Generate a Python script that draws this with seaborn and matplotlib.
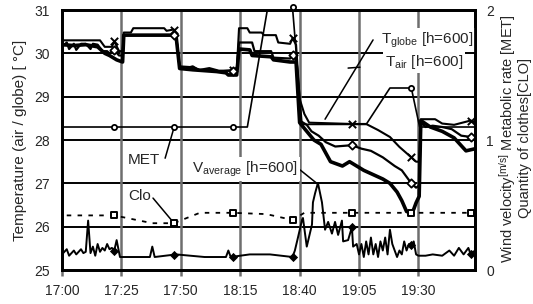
import numpy as np
import pandas as pd
import matplotlib.pyplot as plt
import seaborn as sns

# minutes after 17:00
tick_min = [0, 25, 50, 75, 100, 125, 150]
tick_lab = ["17:00", "17:25", "17:50", "18:15", "18:40", "19:05", "19:30"]
mark_min = [22, 47, 72, 97, 122, 147, 172]

# air temperature (x markers)
air_time = [0, 16, 18, 21, 22, 24, 25.5, 26, 29, 30, 43, 44, 47, 48, 49.5, 55, 58, 62, 66, 70,
            72, 73.5, 74.5, 78, 79, 84, 85, 90, 91, 96, 97, 98.5, 100, 102, 104, 122, 128, 133, 138, 142,
            147, 149, 150.3, 151, 157, 160, 165, 172, 174]
air_temp = [30.30, 30.30, 30.15, 30.15, 30.28, 30.05, 30.05, 30.48, 30.48, 30.58, 30.58, 30.52, 30.55, 30.45, 29.70, 29.68, 29.62, 29.66, 29.60, 29.60,
            29.62, 29.55, 30.58, 30.58, 30.48, 30.48, 30.42, 30.42, 30.25, 30.22, 30.35, 30.20, 28.95, 28.60, 28.40, 28.37, 28.37, 28.23, 28.07, 27.84,
            27.60, 27.50, 27.50, 28.48, 28.48, 28.38, 28.35, 28.45, 28.40]

# globe temperature (diamond markers)
globe_time = [0, 2, 3, 5, 6, 8, 10, 12, 13, 15, 17, 19, 20, 22, 24, 25.5, 26, 47, 48, 49.5,
              52, 55, 58, 62, 66, 70, 72, 73.5, 74.5, 80, 81, 88, 89, 96, 97, 98.5, 100, 103, 105, 108,
              111, 115, 122, 126, 130, 135, 140, 143, 147, 149, 150.3, 151, 153, 156, 160, 164, 168, 172, 174]
globe_temp = [30.15, 30.25, 30.10, 30.22, 30.08, 30.22, 30.22, 30.10, 30.22, 30.20, 30.05, 30.05, 30.00, 30.08, 29.95, 29.95, 30.42, 30.42, 30.40, 29.68,
              29.65, 29.70, 29.60, 29.62, 29.58, 29.60, 29.60, 29.55, 30.25, 30.25, 30.05, 30.05, 29.90, 29.88, 29.96, 29.85, 28.45, 28.35, 28.20, 28.10,
              27.95, 27.85, 27.88, 27.80, 27.75, 27.60, 27.40, 27.30, 27.00, 26.90, 26.95, 28.40, 28.30, 28.33, 28.30, 28.25, 28.10, 28.07, 28.00]

# bold temperature line
bold_time = [0, 5, 10, 15, 18, 20, 23, 25.5, 26, 47, 48, 49.5, 55, 60, 65, 69, 70, 73.5, 74.5, 79,
             80, 88, 89, 96, 98.5, 100, 103, 106, 109, 111, 113, 118, 121, 124, 127, 131, 135, 138, 141, 143,
             145, 147, 148, 149, 150.3, 151, 155, 160, 165, 170, 174]
bold_temp = [30.20, 30.18, 30.20, 30.15, 30.00, 29.95, 29.85, 29.80, 30.42, 30.42, 30.40, 29.65, 29.62, 29.60, 29.58, 29.55, 29.50, 29.50, 30.10, 30.08,
             29.95, 29.92, 29.85, 29.80, 29.80, 28.40, 28.20, 28.00, 27.90, 27.70, 27.50, 27.40, 27.50, 27.40, 27.30, 27.20, 27.10, 27.00, 26.80, 26.60,
             26.35, 26.32, 26.40, 26.55, 26.70, 28.45, 28.30, 28.20, 28.05, 27.75, 27.80]

# metabolic rate [MET]
met_time = [0, 22, 47, 72, 78, 92, 97, 101, 128, 138, 147, 150.5, 172, 174]
met_val = [1.1, 1.1, 1.1, 1.1, 1.1, 2.6, 2.02, 1.12, 1.12, 1.4, 1.4, 1.1, 1.1, 1.1]

# clothing [CLO]
clo_time = [2, 22, 38, 47, 58, 72, 86, 97, 102, 122, 147, 172, 174]
clo_val = [0.42, 0.42, 0.36, 0.36, 0.44, 0.44, 0.43, 0.385, 0.44, 0.44, 0.44, 0.44, 0.44]

# wind velocity [m/s]
wind_time = [0, 2, 3, 5, 6, 8, 9, 10, 11, 12, 13, 14, 15, 16, 17, 18, 19, 20, 21, 22,
             23, 24.4, 30, 37, 38, 39, 48, 60, 69, 70, 71, 79, 87.5, 97, 98, 99.3, 101, 101.4, 103, 105.2,
             105.6, 106.5, 107.7, 109.4, 110.7, 112, 113.6, 114.9, 116.2, 117.8, 118.3, 120.4, 122, 122.5, 124, 125, 126, 127, 128, 129,
             130, 131, 132, 133, 134, 135, 136, 137, 138, 139, 140, 141, 142, 143, 144, 145, 146, 147, 148, 149,
             150, 153, 156, 160, 163, 165, 167, 169, 171, 172, 173, 174]
wind_val = [0.12, 0.16, 0.11, 0.15, 0.12, 0.16, 0.13, 0.14, 0.38, 0.13, 0.18, 0.11, 0.20, 0.14, 0.17, 0.15, 0.20, 0.16, 0.17, 0.15,
            0.23, 0.10, 0.10, 0.10, 0.18, 0.10, 0.12, 0.10, 0.10, 0.15, 0.10, 0.12, 0.12, 0.10, 0.15, 0.25, 0.385, 0.40, 0.18, 0.35,
            0.52, 0.59, 0.67, 0.52, 0.31, 0.37, 0.28, 0.37, 0.27, 0.38, 0.22, 0.23, 0.33, 0.18, 0.20, 0.12, 0.20, 0.10, 0.22, 0.12,
            0.25, 0.12, 0.20, 0.10, 0.22, 0.15, 0.25, 0.12, 0.31, 0.20, 0.15, 0.10, 0.15, 0.12, 0.22, 0.15, 0.20, 0.19, 0.22, 0.12,
            0.11, 0.11, 0.12, 0.11, 0.15, 0.11, 0.17, 0.12, 0.17, 0.12, 0.14, 0.15]

sns.set_theme(style="white")
plt.rcParams["font.family"] = ["Liberation Sans", "DejaVu Sans"]
plt.rcParams["mathtext.fontset"] = "custom"
plt.rcParams["mathtext.rm"] = "Liberation Sans"
plt.rcParams["mathtext.it"] = "Liberation Sans"

fig = plt.figure(figsize=(5.33, 3.04), dpi=100)
ax = fig.add_axes([0.1163, 0.1118, 0.7749, 0.8553])
ax2 = ax.twinx()

# grid
for y in [26, 27, 28, 29, 30]:
    ax.axhline(y, color="black", lw=1.4, zorder=1)
for x in tick_min[1:]:
    ax.axvline(x, color="#6e6e6e", lw=1.8, zorder=1)

# temperatures
sns.lineplot(x=bold_time, y=bold_temp, ax=ax, color="black", lw=2.6, estimator=None, zorder=3)
sns.lineplot(x=globe_time, y=globe_temp, ax=ax, color="black", lw=1.6, estimator=None, zorder=3)
sns.lineplot(x=air_time, y=air_temp, ax=ax, color="black", lw=1.5, estimator=None, zorder=3)
sns.scatterplot(x=mark_min, y=np.interp(mark_min, air_time, air_temp), ax=ax, marker="x",
                color="black", s=28, linewidth=1.4, zorder=4)
sns.scatterplot(x=mark_min, y=np.interp(mark_min, globe_time, globe_temp), ax=ax, marker="D",
                facecolor="white", edgecolor="black", s=18, linewidth=1.3, zorder=4)

# right axis series
sns.lineplot(x=met_time, y=met_val, ax=ax2, color="black", lw=1.2, estimator=None)
met_marks = [22, 47, 72, 97, 147]
sns.scatterplot(x=met_marks, y=np.interp(met_marks, met_time, met_val), ax=ax2, marker="o",
                facecolor="white", edgecolor="black", s=14, linewidth=1.3, clip_on=False, zorder=5)
sns.lineplot(x=clo_time, y=clo_val, ax=ax2, color="black", lw=1.3, estimator=None)
ax2.lines[-1].set_dashes((2.5, 3.5))
sns.scatterplot(x=mark_min, y=np.interp(mark_min, clo_time, clo_val), ax=ax2, marker="s",
                facecolor="white", edgecolor="black", s=18, linewidth=1.4, zorder=5)
sns.lineplot(x=wind_time, y=wind_val, ax=ax2, color="black", lw=1.4, estimator=None)
sns.scatterplot(x=mark_min, y=np.interp(mark_min, wind_time, wind_val), ax=ax2, marker="D",
                color="black", s=22, linewidth=0, zorder=5)

# axes settings
ax.set_xlim(0, 173.8)
ax.set_ylim(25, 31)
ax2.set_ylim(0, 2)
ax.set_xticks(tick_min)
ax.set_xticklabels(tick_lab)
ax.set_yticks([25, 26, 27, 28, 29, 30, 31])
ax2.set_yticks([0, 1, 2])
ax.tick_params(axis="x", length=4, width=1.8, color="#6e6e6e", pad=6, labelsize=10, direction="out", bottom=True)
ax.tick_params(axis="y", length=0, pad=9, labelsize=10)
ax2.tick_params(axis="y", length=0, pad=8, labelsize=10)
for a in (ax, ax2):
    for s in a.spines.values():
        s.set_color("black")
        s.set_linewidth(2)
ax.set_xlabel("")
ax.set_ylabel("Temperature (air / globe) [ °C]", fontsize=11, labelpad=5)
ax2.set_ylabel("")

fig.text(0.965, 0.545,
         r"Wind velocity$^{\rm [m/s]}$ Metabolic rate [MET]" + "\n" + "Quantity of clothes[CLO]",
         rotation=90, ha="center", va="center", multialignment="center",
         fontsize=10.5, linespacing=0.95)

# labels with leader lines
box = dict(facecolor="white", edgecolor="none", pad=1.5)
ax.plot([130.9, 110.7], [30.31, 28.48], color="black", lw=1.1, zorder=6)
ax.text(134.3, 30.31, r"T$_{\rm globe}$ [h=600]", ha="left", va="center", fontsize=11, bbox=box, zorder=7)
ax.plot([125.4, 120.4], [29.68, 29.66], color="black", lw=1.1, zorder=6)
ax.text(136, 29.8, r"T$_{\rm air}$ [h=600]", ha="left", va="center", fontsize=11, bbox=box, zorder=7)
ax.plot([43.4, 47.1], [27.58, 28.28], color="black", lw=1.1, zorder=6)
ax.text(34.5, 27.54, "MET", ha="center", va="center", fontsize=11, zorder=7)
ax.plot([38.3, 46.7], [26.66, 26.11], color="black", lw=1.1, zorder=6)
ax.text(32.8, 26.71, "Clo", ha="center", va="center", fontsize=11, zorder=7)
ax.plot([100.2, 107.7], [27.31, 26.98], color="black", lw=1.1, zorder=6)
ax.text(54.7, 27.33, r"V$_{\rm average}$ [h=600]", ha="left", va="center", fontsize=11, bbox=box, zorder=7)

fig.savefig("out.png", dpi=100)
